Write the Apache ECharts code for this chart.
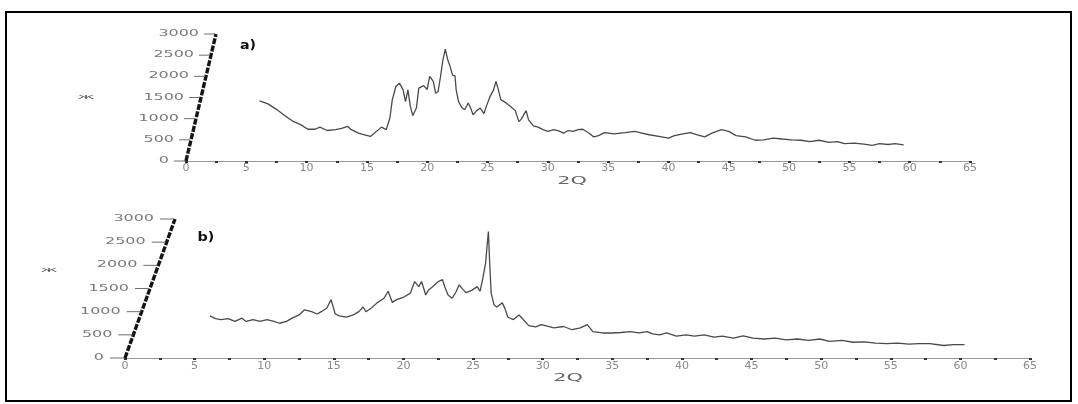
<!DOCTYPE html>
<html>
<head>
<meta charset="utf-8">
<script src="https://cdn.jsdelivr.net/npm/echarts@6/dist/echarts.min.js"></script>
<style>
  html, body { margin: 0; padding: 0; background: #fff; }
  #chart { width: 1078px; height: 404px; }
</style>
</head>
<body>
<div id="chart"></div>
<script>
// Diffraction patterns: intensity against 2-theta, two samples a) and b)
const intensityTicks = [0, 500, 1000, 1500, 2000, 2500, 3000];
const thetaRange = [0, 65];

const thetaA = [6.1, 6.8, 7.5, 8.2, 8.8, 9.5, 10.1, 10.7, 11.1, 11.7, 12.4, 12.9, 13.4, 13.7, 14.3, 14.8,
  15.3, 15.8, 16.2, 16.6, 16.9, 17.1, 17.4, 17.7, 18.0, 18.2, 18.4, 18.6, 18.8, 19.1, 19.3, 19.7,
  20.0, 20.2, 20.5, 20.7, 20.9, 21.1, 21.3, 21.5, 21.7, 21.9, 22.1, 22.3, 22.4, 22.6, 22.9, 23.1,
  23.4, 23.6, 23.8, 24.1, 24.4, 24.7, 24.9, 25.2, 25.5, 25.7, 25.9, 26.1, 26.5, 26.9, 27.3, 27.6,
  27.8, 28.2, 28.4, 28.8, 29.2, 29.6, 30.0, 30.5, 30.9, 31.3, 31.7, 32.1, 32.5, 32.9, 33.4, 33.8,
  34.2, 34.7, 35.5, 36.4, 37.2, 37.8, 38.4, 39.2, 40.0, 40.5, 41.2, 41.8, 42.4, 43.0, 43.6, 44.4,
  45.0, 45.6, 46.4, 47.2, 47.9, 48.7, 49.4, 50.2, 51.0, 51.7, 52.5, 53.3, 54.0, 54.6, 55.4, 56.2,
  56.9, 57.5, 58.2, 58.8, 59.5];
const intensityA = [1420, 1350, 1220, 1070, 950, 860, 750, 750, 800, 720, 740, 770, 820, 740, 660, 620,
  580, 700, 800, 740, 1010, 1440, 1760, 1840, 1680, 1400, 1680, 1290, 1070, 1250, 1720, 1780,
  1690, 2000, 1880, 1600, 1640, 1990, 2390, 2640, 2390, 2230, 2030, 2010, 1680, 1400, 1250, 1210,
  1370, 1250, 1090, 1190, 1250, 1120, 1290, 1520, 1680, 1880, 1680, 1450, 1380, 1290, 1190, 930,
  990, 1190, 970, 830, 800, 740, 700, 740, 710, 660, 720, 700, 740, 750, 660, 570,
  600, 670, 640, 670, 700, 660, 620, 580, 540, 600, 640, 670, 620, 570, 660, 740,
  700, 600, 570, 490, 500, 540, 520, 500, 490, 460, 490, 440, 460, 410, 420, 400,
  370, 410, 390, 410, 380];

const thetaB = [6.1, 6.5, 6.9, 7.4, 7.9, 8.4, 8.7, 9.2, 9.7, 10.2, 10.7, 11.1, 11.6, 12.0, 12.5, 12.9,
  13.4, 13.8, 14.1, 14.5, 14.8, 14.9, 15.1, 15.4, 15.9, 16.4, 16.8, 17.1, 17.3, 17.7, 18.1, 18.6,
  18.9, 19.2, 19.5, 20.0, 20.5, 20.8, 21.1, 21.3, 21.6, 21.8, 22.1, 22.5, 22.8, 23.0, 23.2, 23.5,
  23.8, 24.0, 24.3, 24.5, 24.9, 25.3, 25.5, 25.7, 25.9, 26.0, 26.1, 26.2, 26.3, 26.5, 26.7, 27.1,
  27.3, 27.5, 27.9, 28.3, 28.6, 29.0, 29.5, 29.9, 30.4, 30.8, 31.5, 32.1, 32.7, 33.2, 33.6, 34.3,
  35.0, 35.6, 36.3, 36.9, 37.5, 37.9, 38.4, 38.9, 39.6, 40.3, 40.9, 41.6, 42.3, 42.9, 43.7, 44.4,
  45.1, 45.9, 46.7, 47.5, 48.3, 49.1, 49.9, 50.6, 51.5, 52.3, 53.1, 53.9, 54.7, 55.5, 56.3, 57.0,
  57.8, 58.8, 59.5, 60.3];
const intensityB = [910, 850, 830, 850, 790, 860, 790, 830, 790, 830, 790, 750, 790, 860, 930, 1040,
  1000, 950, 1000, 1080, 1260, 1290, 950, 910, 880, 930, 1000, 1100, 1000, 1080, 1190, 1290,
  1440, 1200, 1260, 1310, 1400, 1650, 1540, 1650, 1360, 1470, 1540, 1650, 1690, 1510, 1360, 1290,
  1440, 1580, 1470, 1410, 1460, 1540, 1440, 1720, 2050, 2400, 2730, 2000, 1400, 1150, 1100, 1190,
  1060, 880, 830, 930, 830, 700, 670, 720, 680, 650, 680, 610, 650, 720, 570, 540,
  540, 550, 570, 540, 570, 520, 500, 540, 470, 500, 470, 500, 450, 470, 430, 480,
  430, 410, 430, 390, 410, 380, 410, 360, 380, 340, 350, 320, 310, 320, 300, 310,
  310, 270, 290, 290];

const panelLabels = ['a)', 'b)'];
const xAxisName = '2Q';
const yAxisName = 'Ж';

const yMax = intensityTicks[intensityTicks.length - 1];
const zip = (xs, ys) => xs.map((x, i) => [x, ys[i]]);

// Leaning intensity axis drawn through the grid's own coordinate system
function leaningAxis(index, lean, tickLen, labelGap) {
  return {
    type: 'custom',
    xAxisIndex: index,
    yAxisIndex: index,
    silent: true,
    clip: false,
    z: 5,
    data: intensityTicks.map(v => [thetaRange[0], v]),
    renderItem(params, api) {
      const v = api.value(1);
      const p = api.coord([thetaRange[0], v]);
      const x = p[0] + lean * v / yMax;
      const y = p[1];
      const children = [
        { type: 'line', shape: { x1: x - tickLen, y1: y, x2: x - 1, y2: y },
          style: { stroke: '#6e6e6e', lineWidth: 1 } },
        { type: 'text', x: x - labelGap, y: y, scaleX: 1.45, scaleY: 0.75,
          style: { x: 0, y: 0, text: String(v), align: 'right', verticalAlign: 'middle',
                   fill: '#7a7a7a', font: '11px "DejaVu Sans"' } }
      ];
      if (params.dataIndex === 0) {
        const b = api.coord([thetaRange[0], 0]);
        const t = api.coord([thetaRange[0], yMax]);
        children.push({ type: 'line', shape: { x1: b[0], y1: b[1], x2: t[0] + lean, y2: t[1] },
          style: { stroke: '#151515', lineWidth: 3.4, lineDash: [6, 1.5] } });
      }
      return { type: 'group', children };
    }
  };
}

function xAxisFor(index) {
  return {
    type: 'value', gridIndex: index, min: thetaRange[0], max: thetaRange[1], interval: 5,
    axisLine: { show: true, lineStyle: { color: '#9a9a9a', width: 1 } },
    axisTick: { show: true, length: 2, lineStyle: { color: '#333', width: 3 } },
    minorTick: { show: true, splitNumber: 2, length: 2, lineStyle: { color: '#333', width: 3 } },
    axisLabel: { color: '#8a8a8a', fontSize: 11, fontFamily: 'DejaVu Sans', margin: index ? 3 : 2 },
    splitLine: { show: false }, minorSplitLine: { show: false }
  };
}

function yAxisFor(index) {
  return { type: 'value', gridIndex: index, min: 0, max: yMax, show: false, splitLine: { show: false } };
}

function patternLine(index, data) {
  return {
    type: 'line', xAxisIndex: index, yAxisIndex: index, data,
    showSymbol: false, smooth: false, z: 3,
    lineStyle: { color: '#4a4a4a', width: 1.3 }
  };
}

function stretchedText(text, x, y, size, weight, color, sx, sy) {
  return {
    type: 'text', x, y, scaleX: sx, scaleY: sy,
    style: { x: 0, y: 0, text, align: 'center', verticalAlign: 'middle',
             font: `${weight} ${size}px "DejaVu Sans"`, fill: color }
  };
}

const chart = echarts.init(document.getElementById('chart'), null, { renderer: 'canvas' });
chart.setOption({
  backgroundColor: '#ffffff',
  animation: false,
  grid: [
    { left: 186, top: 34, width: 784, height: 127 },
    { left: 125, top: 219, width: 905, height: 139 }
  ],
  xAxis: [xAxisFor(0), xAxisFor(1)],
  yAxis: [yAxisFor(0), yAxisFor(1)],
  series: [
    patternLine(0, zip(thetaA, intensityA)),
    patternLine(1, zip(thetaB, intensityB)),
    leaningAxis(0, 30, 12, 17),
    leaningAxis(1, 50, 15, 21)
  ],
  graphic: [
    { type: 'rect', shape: { x: 6, y: 12, width: 1065, height: 389 },
      style: { fill: 'none', stroke: '#000', lineWidth: 2 } },
    stretchedText(panelLabels[0], 248, 46, 13, 'bold', '#111', 1.1, 0.9),
    stretchedText(panelLabels[1], 206, 238, 13, 'bold', '#111', 1.1, 0.9),
    stretchedText(xAxisName, 572, 181, 13, 'normal', '#666', 1.6, 0.8),
    stretchedText(xAxisName, 568, 378, 13, 'normal', '#666', 1.6, 0.8),
    stretchedText(yAxisName, 86, 97, 10, 'normal', '#555', 1.5, 0.6),
    stretchedText(yAxisName, 49, 270, 10, 'normal', '#555', 1.5, 0.6)
  ]
});
</script>
</body>
</html>
